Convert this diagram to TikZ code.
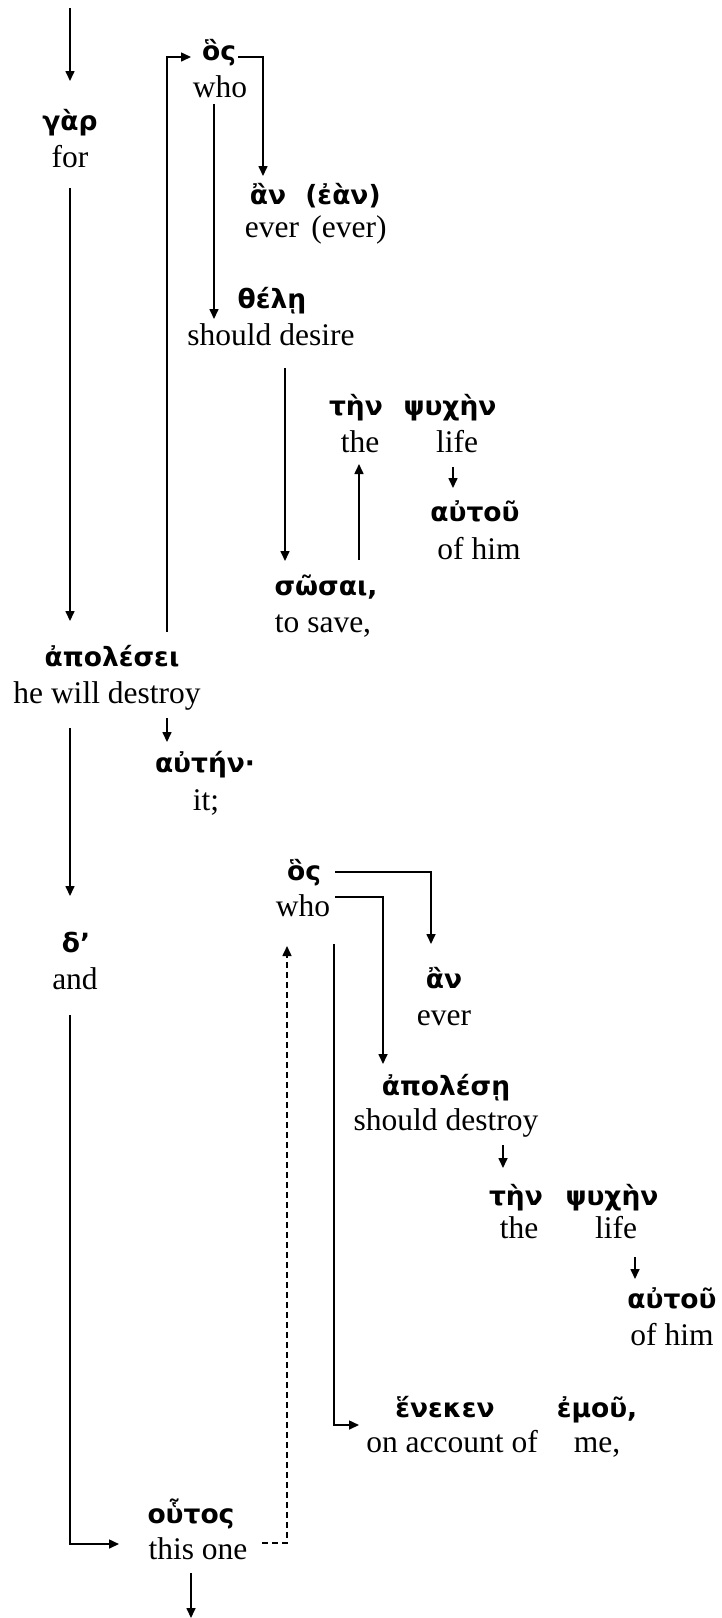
\documentclass[tikz,border=0pt]{standalone}
\usepackage{fontspec}
\setmainfont{Liberation Serif}
\newfontfamily\gkfont{DejaVu Sans}
\usetikzlibrary{arrows.meta}
\begin{document}
\begin{tikzpicture}[x=1pt,y=-1pt,
  en/.style={font=\fontsize{31.5}{36}\selectfont, anchor=base, inner sep=0pt},
  gr/.style={font=\gkfont\bfseries\fontsize{26.5}{30}\selectfont, anchor=base, inner sep=0pt},
  conn/.style={line width=1.6pt, -{Triangle[length=10pt,width=9pt]}},
  dconn/.style={conn, dash pattern=on 6pt off 4pt}]
\useasboundingbox (0,0) rectangle (722,1618);
% ---- words ----
\node[gr] (gar) at (70,130) {γὰρ};
\node[en] (for) at (70,167) {for};
\node[gr] (hosA) at (219,60) {ὃς};
\node[en] (whoA) at (220,97) {who};
\node[gr] (anA) at (268,204) {ἂν};
\node[gr] (ean) at (343,204) {(ἐὰν)};
\node[en] (everA) at (272,237) {ever};
\node[en] (everB) at (349,237) {(ever)};
\node[gr] (thele) at (272,308) {θέλῃ};
\node[en] (desire) at (271,345) {should desire};
\node[gr] (tenA) at (356,415) {τὴν};
\node[gr] (psyA) at (450,415) {ψυχὴν};
\node[en] (theA) at (360,452) {the};
\node[en] (lifeA) at (457,452) {life};
\node[gr] (autouA) at (475,521) {αὐτοῦ};
\node[en] (ofhimA) at (479,559) {of him};
\node[gr] (sosai) at (326,595) {σῶσαι,};
\node[en] (tosave) at (323,632) {to save,};
\node[gr] (apolesei) at (112,666) {ἀπολέσει};
\node[en] (willdestroy) at (107,703) {he will destroy};
\node[gr] (auten) at (205,772) {αὐτήν·};
\node[en] (it) at (206,810) {it;};
\node[gr] (de) at (76,952) {δ’};
\node[en] (and) at (75,989) {and};
\node[gr] (hosB) at (304,880) {ὃς};
\node[en] (whoB) at (303,916) {who};
\node[gr] (anB) at (444,988) {ἂν};
\node[en] (everC) at (444,1025) {ever};
\node[gr] (apolese) at (446,1095) {ἀπολέσῃ};
\node[en] (shoulddestroy) at (446,1130) {should destroy};
\node[gr] (tenB) at (516,1205) {τὴν};
\node[gr] (psyB) at (612,1205) {ψυχὴν};
\node[en] (theB) at (519,1238) {the};
\node[en] (lifeB) at (616,1238) {life};
\node[gr] (autouB) at (672,1308) {αὐτοῦ};
\node[en] (ofhimB) at (672,1345) {of him};
\node[gr] (heneken) at (445,1417) {ἕνεκεν};
\node[gr] (emou) at (597,1417) {ἐμοῦ,};
\node[en] (onaccount) at (452,1452) {on account of};
\node[en] (me) at (597,1452) {me,};
\node[gr] (houtos) at (191,1523) {οὗτος};
\node[en] (thisone) at (198,1559) {this one};
% ---- connector points ----
\coordinate (topin) at (70,8);
\coordinate (garin) at (70,81);
\coordinate (forout) at (70,188);
\coordinate (apoin) at (70,621);
\coordinate (apoup) at (167,632);
\coordinate (hosAin) at (191,57);
\coordinate (hosAout) at (238,57);
\coordinate (anAin) at (263,176);
\coordinate (whoAout) at (214,104);
\coordinate (theleIn) at (214,319);
\coordinate (desireOut) at (285,368);
\coordinate (sosaiIn) at (285,561);
\coordinate (sosaiOut) at (359,560);
\coordinate (theAin) at (359,464);
\coordinate (lifeAout) at (453,467);
\coordinate (autouAin) at (453,488);
\coordinate (wdOutR) at (167,718);
\coordinate (autenIn) at (167,742);
\coordinate (wdOutL) at (70,728);
\coordinate (deIn) at (70,896);
\coordinate (hosBout) at (335,872);
\coordinate (anBin) at (431,944);
\coordinate (whoBout) at (335,897);
\coordinate (apoleseIn) at (383,1064);
\coordinate (sdOut) at (503,1145);
\coordinate (tenBin) at (503,1168);
\coordinate (lifeBout) at (635,1257);
\coordinate (autouBin) at (635,1279);
\coordinate (whoBdown) at (334,944);
\coordinate (henekenIn) at (359,1425);
\coordinate (andOut) at (70,1015);
\coordinate (houtosIn) at (119,1544);
\coordinate (thisoneOut) at (262,1543);
\coordinate (whoBin) at (287,946);
\coordinate (thisoneDown) at (191,1573);
\coordinate (bottomEnd) at (191,1618);
% ---- connectors ----
\draw[conn] (topin) -- (garin);
\draw[conn] (forout) -- (apoin);
\draw[conn] (apoup) |- (hosAin);
\draw[conn] (hosAout) -| (anAin);
\draw[conn] (whoAout) -- (theleIn);
\draw[conn] (desireOut) -- (sosaiIn);
\draw[conn] (sosaiOut) -- (theAin);
\draw[conn] (lifeAout) -- (autouAin);
\draw[conn] (wdOutR) -- (autenIn);
\draw[conn] (wdOutL) -- (deIn);
\draw[conn] (hosBout) -| (anBin);
\draw[conn] (whoBout) -| (apoleseIn);
\draw[conn] (sdOut) -- (tenBin);
\draw[conn] (lifeBout) -- (autouBin);
\draw[conn] (whoBdown) |- (henekenIn);
\draw[conn] (andOut) |- (houtosIn);
\draw[dconn] (thisoneOut) -| (whoBin);
\draw[conn] (thisoneDown) -- (bottomEnd);
\end{tikzpicture}
\end{document}
